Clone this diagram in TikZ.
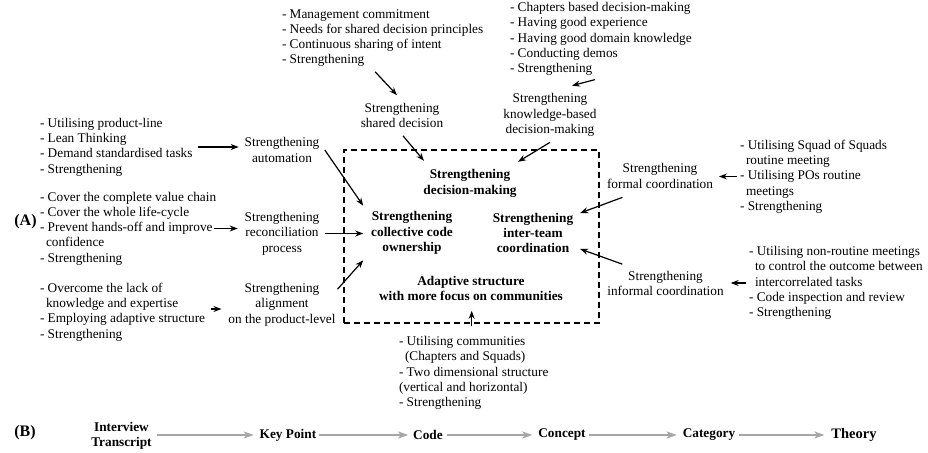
\documentclass[tikz,border=0pt]{standalone}
\usepackage{fontspec}
\setmainfont{Liberation Serif}
\usetikzlibrary{arrows.meta,calc}
\definecolor{garrow}{HTML}{A6A6A6}
\begin{document}
\begin{tikzpicture}[x=1pt,y=-1pt,
  every node/.style={inner sep=0pt, outer sep=0pt, font=\fontsize{13.3}{15.3}\selectfont},
  blk/.style={align=left, anchor=west},
  lab/.style={align=center},
  blab/.style={align=center, font=\fontsize{13.3}{15.3}\selectfont\bfseries},
  biglab/.style={font=\fontsize{16}{18}\selectfont\bfseries},
  arr/.style={line width=1.2pt, -{Stealth[length=8pt,width=6pt]}},
  garr/.style={line width=1.8pt, draw=garrow, -{Stealth[length=10pt,width=7pt,inset=2.5pt]}},
  dashbox/.style={draw, line width=1.2pt, dash pattern=on 6pt off 4pt}]
\useasboundingbox (0,0) rectangle (928,452);

% left column
\node[blk] (b1) at (40,147) {- Utilising product-line\\- Lean Thinking\\- Demand standardised tasks\\- Strengthening};
\node[blk] (b2) at (40,228.5) {- Cover the complete value chain\\- Cover the whole life-cycle\\- Prevent hands-off and improve\\\hspace*{6pt}confidence\\- Strengthening};
\node[blk] (b3) at (40,312) {- Overcome the lack of\\\hspace*{6pt}knowledge and expertise\\- Employing adaptive structure\\- Strengthening};
\node[biglab] (A) at (25.5,222) {(A)};

\node[lab] (auto) at (282,150) {Strengthening\\automation};
\node[lab] (recon) at (282,233.5) {Strengthening\\reconciliation\\process};
\node[lab] (alig) at (282,304.5) {Strengthening\\alignment\\on the product-level};

% top
\node[blk] (t1) at (282,38) {- Management commitment\\- Needs for shared decision principles\\- Continuous sharing of intent\\- Strengthening};
\node[lab] (shared) at (402,115.5) {Strengthening\\shared decision};
\node[blk] (t2) at (510,39) {- Chapters based decision-making\\- Having good experience\\- Having good domain knowledge\\- Conducting demos\\- Strengthening};
\node[lab] (kb) at (550,115) {Strengthening\\knowledge-based\\decision-making};

% box
\node[dashbox, minimum width=255pt, minimum height=173pt] (box) at (471.5,236.5) {};
\node[blab] (dm) at (470,183.5) {Strengthening\\decision-making};
\node[blab] (cco) at (412,233) {Strengthening\\collective code\\ownership};
\node[blab] (itc) at (533,233) {Strengthening\\inter-team\\coordination};
\node[blab] (adapt) at (471,288.5) {Adaptive structure\\with more focus on communities};

% right
\node[lab] (formal) at (660,176) {Strengthening\\formal coordination};
\node[blk] (fb) at (740,176.5) {- Utilising Squad of Squads\\\hspace*{6pt}routine meeting\\- Utilising POs routine\\\hspace*{6pt}meetings\\- Strengthening};
\node[lab] (informal) at (665.5,283.5) {Strengthening\\informal coordination};
\node[blk] (ib) at (749,283) {- Utilising non-routine meetings\\\hspace*{6pt}to control the outcome between\\\hspace*{6pt}intercorrelated tasks\\- Code inspection and review\\- Strengthening};

% bottom block
\node[blk] (bb) at (399,373) {- Utilising communities\\\hspace*{6pt}(Chapters and Squads)\\- Two dimensional structure\\(vertical and horizontal)\\- Strengthening};

% arrows (A)
\draw[arr] ($(b1.east)+(5,0)$) -- ($(b1.east -| auto.west)+(-6,0)$);
\draw[arr] ($(b2.east)+(-2,0)$) -- ($(b2.east -| recon.west)+(-7,0)$);
\draw[arr] ($(b3.east)+(6,-3)$) -- ($(b3.east -| alig.west)+(-7,-3)$);
\draw[arr] ($(t1.south)+(-7.5,5)$) -- ($(shared.north)+(-5,-8)$);
\draw[arr] ($(shared.south)+(1,8)$) -- ($(dm.north west)+(0.5,-9)$);
\draw[arr] ($(kb.south)+(0,6)$) -- ($(dm.north east)+(1.5,-8)$);
\draw[arr] ($(t2.south)+(-6,4)$) -- ($(kb.north)+(22,-8)$);
\draw[arr] ($(auto.east)+(5.5,0)$) -- ($(cco.north west)+(-8,-6)$);
\draw[arr] ($(recon.east)+(6,0)$) -- ($(recon.east -| cco.west)+(-8,0)$);
\draw[arr] ($(alig.north east)+(2,6)$) -- ($(cco.south west)+(-8,6)$);
\draw[arr] ($(formal.south west)+(15.5,9)$) -- ($(itc.north east)+(7,0)$);
\draw[arr] ($(informal.north west)+(15,-7)$) -- ($(itc.south east)+(7,-4)$);
\draw[arr] ($(fb.west)+(-3,0)$) -- ($(fb.west -| formal.east)+(6,0)$);
\draw[arr] ($(ib.west)+(-3,0)$) -- ($(ib.west -| informal.east)+(7,0)$);
\draw[arr] ($(bb.north)+(-2,-10)$) -- ($(bb.north |- adapt.south)+(-2,10)$);

% row (B)
\node[biglab] (B) at (25,433) {(B)};
\node[blab] (it) at (121.5,435.5) {Interview\\Transcript};
\node[blab] (kp) at (288,435) {Key Point};
\node[blab] (code) at (428,435) {Code};
\node[blab] (concept) at (562,435) {Concept};
\node[blab] (category) at (709,435) {Category};
\node[font=\fontsize{14.5}{16}\selectfont\bfseries] (theory) at (854,435) {Theory};

\draw[garr] ($(it.east |- kp.west)+(5,0)$) -- ($(kp.west)+(-6,0)$);
\draw[garr] ($(kp.east)+(3,0)$) -- ($(code.west)+(-5,0)$);
\draw[garr] ($(code.east)+(4,0)$) -- ($(concept.west)+(-6,0)$);
\draw[garr] ($(concept.east)+(3,0)$) -- ($(category.west)+(-6,0)$);
\draw[garr] ($(category.east)+(4,0)$) -- ($(theory.west)+(-7,0)$);
\end{tikzpicture}
\end{document}
